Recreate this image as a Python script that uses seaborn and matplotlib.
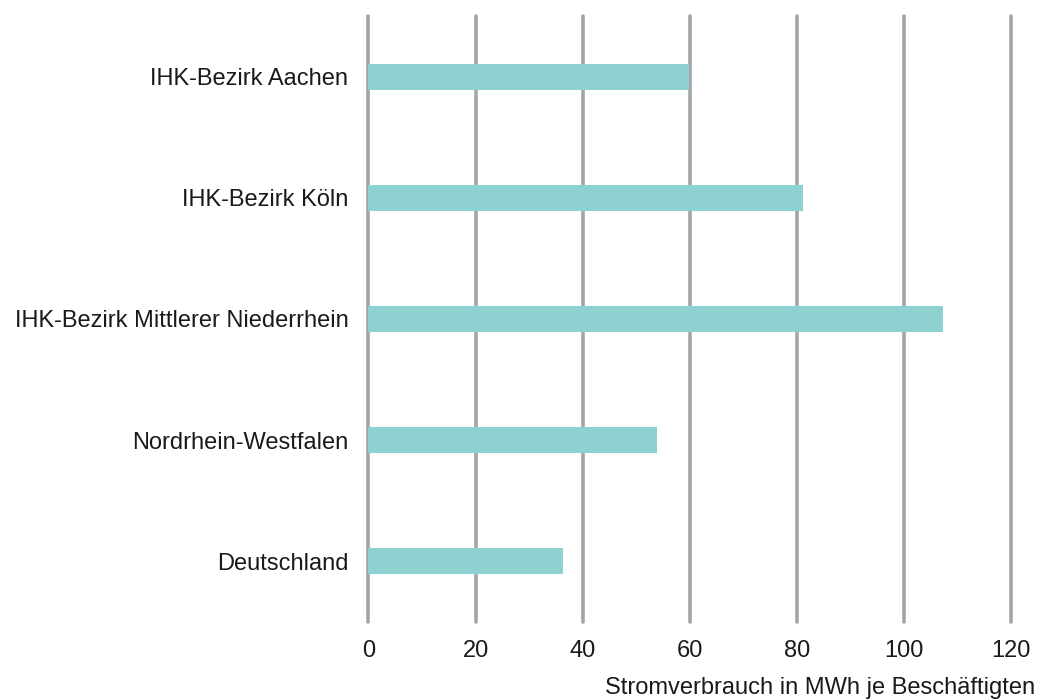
import matplotlib.pyplot as plt
import seaborn as sns
import pandas as pd

regionen = [
    "IHK-Bezirk Aachen",
    "IHK-Bezirk Köln",
    "IHK-Bezirk Mittlerer Niederrhein",
    "Nordrhein-Westfalen",
    "Deutschland",
]
verbrauch = [59.8, 81.2, 107.3, 53.8, 36.3]
x_ticks = [0, 20, 40, 60, 80, 100, 120]

df = pd.DataFrame({"Region": regionen, "MWh": verbrauch})

sns.set_style("white")
plt.rcParams['font.family'] = ['Liberation Sans', 'DejaVu Sans']

fig = plt.figure(figsize=(10.4, 6.99), dpi=100)
ax = fig.add_axes([0.3543, 0.1102, 0.9721 - 0.3543, 0.9771 - 0.1102])

# Gitterlinien
for t in x_ticks:
    ax.axvline(t, color='#A2A6AA', linewidth=2.6, zorder=0, clip_on=False)

sns.barplot(
    data=df,
    x='MWh',
    y='Region',
    orient='h',
    color='#8ED1D1',
    saturation=1,
    width=0.215,
    linewidth=0,
    ax=ax,
    zorder=2)

ax.set_xlim(0, 120)
ax.set_ylim(4.5, -0.5)
ax.set_xticks(x_ticks)
ax.set_xticklabels([str(t) for t in x_ticks])
ax.tick_params(axis='x', length=0, pad=13, labelsize=17, labelcolor='#1a1a1a')
ax.tick_params(axis='y', length=0, pad=14.5, labelsize=17, labelcolor='#1a1a1a')
for s in ax.spines.values():
    s.set_visible(False)
ax.set_xlabel('')
ax.set_ylabel('')

fig.text(1035 / 1040, 0.0, 'Stromverbrauch in MWh je Beschäftigten',
         ha='right', va='bottom', fontsize=17, color='#1a1a1a')

plt.savefig('out.png', dpi=100)
plt.close()
